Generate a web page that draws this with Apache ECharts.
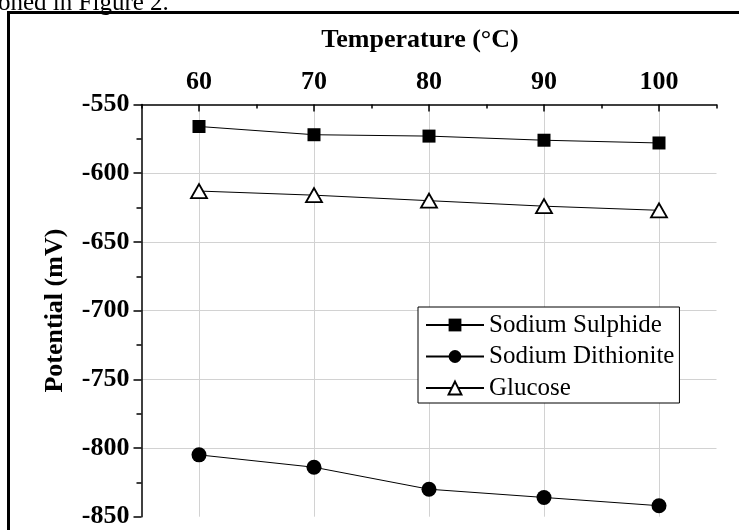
<!DOCTYPE html>
<html lang="en">
<head>
    <meta charset="UTF-8">
    <script src="https://cdn.jsdelivr.net/npm/echarts@6/dist/echarts.min.js"></script>
    <style>
        html, body {margin:0; padding:0; background:#fff; overflow:hidden;}
        #chart {width:739px; height:530px;}
    </style>
    <title>Potential vs Temperature</title>
</head>
<body>
    <div id="chart"></div>
    <script>
        // data
        const temps = [60, 70, 80, 90, 100];
        const sulphide = [-566, -572, -573, -576, -578];
        const dithionite = [-805, -814, -830, -836, -842];
        const glucose = [-613, -616, -620, -624, -627];
        const yTicks = [-850, -800, -750, -700, -650, -600, -550];

        const serif = '"Liberation Serif", "Times New Roman", serif';
        const pairs = vals => temps.map((t, i) => [t, vals[i]]);

        let chart = echarts.init(document.getElementById('chart'));

        let options = {
            animation: false,
            grid: {left: 141.5, right: 22.5, top: 104.5, bottom: 13.3},
            graphic: [
                {
                    type: 'rect', z: -1, silent: true,
                    shape: {x: 8.5, y: 12.5, width: 800, height: 600},
                    style: {fill: 'none', stroke: '#000', lineWidth: 3}
                },
                {
                    type: 'text', x: -2, y: 16,
                    style: {text: 'oned in Figure 2.', font: '25px ' + serif, fill: '#000', textVerticalAlign: 'bottom'}
                },
                {
                    type: 'text', x: 420, y: 27,
                    style: {text: 'Temperature (°C)', font: 'bold 26px ' + serif, fill: '#000', textAlign: 'center', textVerticalAlign: 'top'}
                }
            ],
            legend: {
                left: 418, top: 307,
                orient: 'vertical',
                backgroundColor: '#fff',
                borderColor: '#000', borderWidth: 1,
                padding: [5, 5, 2, 7],
                itemWidth: 58, itemHeight: 16, itemGap: 5.5,
                textStyle: {fontFamily: serif, fontSize: 25, color: '#000', lineHeight: 26},
                data: ['Sodium Sulphide', 'Sodium Dithionite', 'Glucose']
            },
            xAxis: [
                {
                    type: 'value', position: 'top', min: 55, max: 105, interval: 5,
                    axisLine: {onZero: false, lineStyle: {color: '#000', width: 1.5}},
                    axisTick: {inside: true, length: 4, lineStyle: {color: '#000', width: 1.5}},
                    axisLabel: {show: false},
                    splitLine: {show: false}
                },
                {
                    type: 'value', position: 'top', min: 55, max: 105,
                    axisLine: {show: false, onZero: false},
                    axisTick: {inside: true, length: 7, customValues: temps, lineStyle: {color: '#000', width: 1.5}},
                    axisLabel: {customValues: temps, margin: 9, color: '#000', fontFamily: serif, fontWeight: 'bold', fontSize: 26},
                    splitLine: {show: true, lineStyle: {color: '#d2d2d2', width: 1}}
                }
            ],
            yAxis: {
                type: 'value', min: -850, max: -550, interval: 50,
                name: 'Potential (mV)', nameLocation: 'middle', nameGap: 73,
                nameTextStyle: {color: '#000', fontFamily: serif, fontWeight: 'bold', fontSize: 26},
                axisLine: {show: true, onZero: false, lineStyle: {color: '#000', width: 1.5}},
                axisTick: {length: 8, lineStyle: {color: '#000', width: 1.5}},
                minorTick: {show: true, splitNumber: 2, length: 5, lineStyle: {color: '#000', width: 1.5}},
                axisLabel: {margin: 12, color: '#000', fontFamily: serif, fontWeight: 'bold', fontSize: 26,
                    customValues: yTicks},
                splitLine: {show: true, showMinLine: false, showMaxLine: false, lineStyle: {color: '#d2d2d2', width: 1}}
            },
            series: [
                {
                    name: 'Sodium Sulphide', type: 'line', xAxisIndex: 1,
                    symbol: 'rect', symbolSize: 13,
                    lineStyle: {color: '#000', width: 1},
                    itemStyle: {color: '#000'},
                    data: pairs(sulphide)
                },
                {
                    name: 'Sodium Dithionite', type: 'line', xAxisIndex: 1,
                    symbol: 'circle', symbolSize: 15,
                    lineStyle: {color: '#000', width: 1},
                    itemStyle: {color: '#000'},
                    data: pairs(dithionite)
                },
                {
                    name: 'Glucose', type: 'line', xAxisIndex: 1,
                    symbol: 'triangle', symbolSize: [16, 14],
                    lineStyle: {color: '#000', width: 1},
                    itemStyle: {color: '#fff', borderColor: '#000', borderWidth: 1.8},
                    data: pairs(glucose)
                }
            ]
        };
        chart.setOption(options);
    </script>
</body>
</html>
